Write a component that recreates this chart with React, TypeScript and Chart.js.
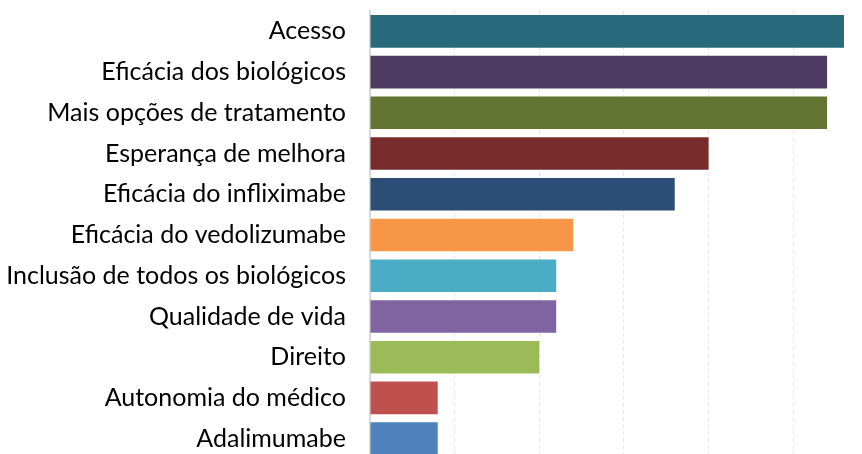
import React, { useEffect, useRef } from "react";
import { Chart, registerables } from "chart.js";

Chart.register(...registerables);

const categories = [
  "Acesso",
  "Eficácia dos biológicos",
  "Mais opções de tratamento",
  "Esperança de melhora",
  "Eficácia do infliximabe",
  "Eficácia do vedolizumabe",
  "Inclusão de todos os biológicos",
  "Qualidade de vida",
  "Direito",
  "Autonomia do médico",
  "Adalimumabe",
];

const values = [28, 27, 27, 20, 18, 12, 11, 11, 10, 4, 4];

const barColors = [
  "#286A7B",
  "#4D3B62",
  "#637532",
  "#772C2B",
  "#2B4D76",
  "#F79646",
  "#4BACC6",
  "#8064A2",
  "#9BBB59",
  "#C0504D",
  "#4F81BD",
];

const xMax = 28;
const xStep = 5;

export default function App() {
  const ref = useRef<HTMLCanvasElement | null>(null);

  useEffect(() => {
    document.body.style.margin = "0";
    document.body.style.overflow = "hidden";
    const canvas = ref.current;
    if (!canvas) return;
    const chart = new Chart(canvas, {
      type: "bar",
      data: {
        labels: categories,
        datasets: [
          {
            data: values,
            backgroundColor: barColors,
            borderWidth: 0,
            categoryPercentage: 1,
            barPercentage: 0.8,
          },
        ],
      },
      options: {
        indexAxis: "y",
        animation: false,
        responsive: false,
        maintainAspectRatio: false,
        layout: { padding: { top: 11, bottom: 1, left: 0, right: 18 } },
        plugins: {
          legend: { display: false },
          tooltip: { enabled: false },
        },
        scales: {
          x: {
            min: 0,
            max: xMax,
            afterFit: (scale: any) => {
              scale.height = 0;
              scale.paddingLeft = 0;
              scale.paddingRight = 0;
            },
            ticks: { display: false, stepSize: xStep },
            grid: {
              drawTicks: false,
              color: (ctx: any) =>
                ctx.tick && ctx.tick.value % xStep === 0 && ctx.tick.value !== 0
                  ? "#e6e6e6"
                  : "rgba(0,0,0,0)",
              lineWidth: 1,
            },
            border: { display: false, dash: [4, 3] },
          },
          y: {
            afterFit: (scale: any) => {
              scale.width = 370;
              scale.paddingTop = 0;
              scale.paddingBottom = 0;
            },
            grid: { display: false, drawTicks: false },
            border: { display: true, color: "#d9d9d9", width: 2 },
            ticks: {
              padding: 24,
              color: "#000000",
              font: { family: "Lato", size: 25 },
            },
          },
        },
      },
    });
    return () => chart.destroy();
  }, []);

  return (
    <div style={{ width: 862, height: 454, overflow: "hidden" }}>
      <canvas ref={ref} width={862} height={460} style={{ display: "block" }} />
    </div>
  );
}
